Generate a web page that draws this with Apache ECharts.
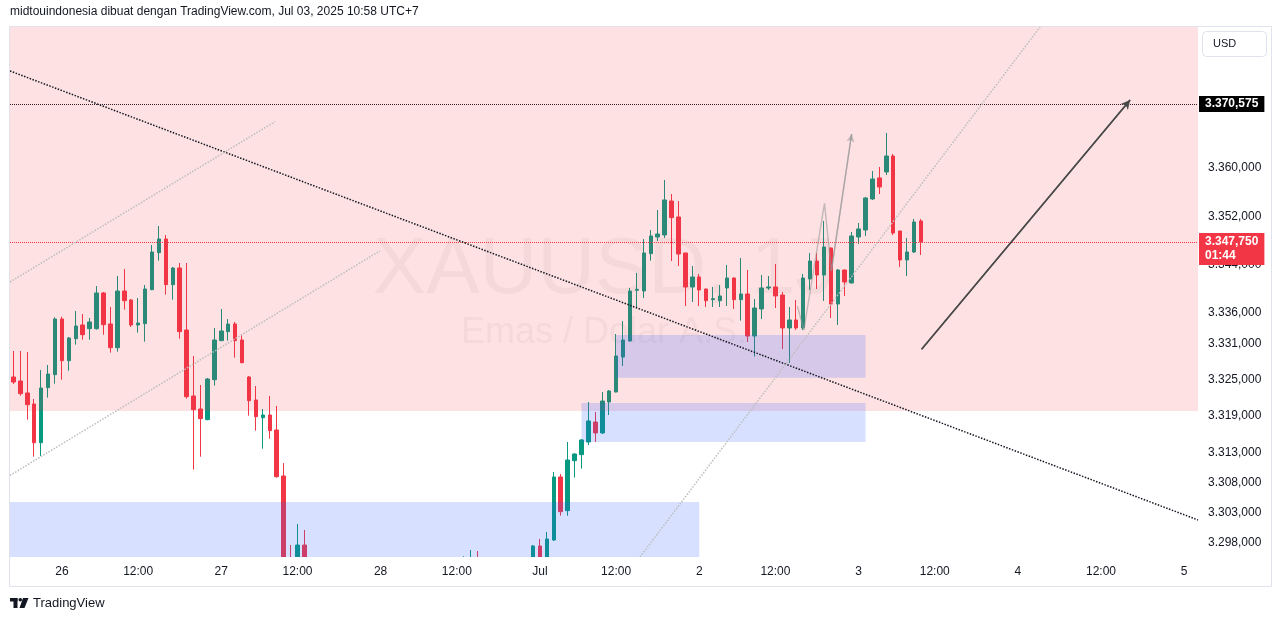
<!DOCTYPE html>
<html>
<head>
<meta charset="utf-8">
<script src="https://cdn.jsdelivr.net/npm/echarts@6/dist/echarts.min.js"></script>
<style>
html,body{margin:0;padding:0;background:#fff;}
#chart{width:1281px;height:621px;}
</style>
</head>
<body>
<div id="chart"></div>
<script>
// ---------- data (XAUUSD 1h, bar index 0 = Jun 25 17:00 UTC+7) ----------
const opens = [
3325.44,3324.78,3322.80,3320.98,3314.58,3323.68,3325.83,3335.03,3328.14,3331.78,
3334.04,3333.43,3333.43,3339.33,3334.21,3330.29,3339.66,3338.17,3334.04,3334.26,
3339.88,3346.00,3348.26,3340.71,3343.46,3333.21,3322.30,3320.15,3318.39,3325.00,
3331.45,3332.94,3334.20,3331.56,3325.44,3321.64,3318.72,3319.16,3316.68,3309.07,
3289.00,3282.00,3297.66,3286.30,3279.50,3272.80,3276.90,3268.20,3262.70,3266.40,
3271.50,3268.90,3274.30,3271.60,3276.20,3273.80,3275.10,3272.50,3266.30,3258.70,
3254.10,3262.80,3270.60,3279.50,3276.20,3285.40,3293.10,3294.60,3288.90,3291.70,
3286.50,3289.80,3284.60,3290.30,3287.10,3292.40,3297.50,3294.90,3298.49,3308.91,
3303.34,3311.61,3312.60,3314.70,3318.00,3316.19,3321.31,3322.96,3328.75,3331.40,
3339.77,3339.66,3345.84,3348.59,3348.92,3354.54,3351.90,3345.95,3340.32,3341.98,
3339.99,3338.23,3338.06,3340.16,3341.81,3338.23,3339.17,3332.22,3336.69,3340.16,
3340.33,3339.00,3333.55,3334.87,3333.55,3341.65,3344.62,3342.31,3346.77,3337.51,
3343.13,3340.99,3348.59,3349.75,3354.88,3358.35,3359.34,3361.98,3349.58,3344.79,
3346.11,3351.24];
const closes = [
3324.61,3322.69,3320.87,3314.58,3323.62,3325.94,3335.03,3328.14,3331.89,3333.88,
3332.44,3334.54,3339.33,3334.10,3330.29,3339.66,3338.06,3334.04,3334.37,3339.99,
3346.11,3348.26,3340.71,3343.46,3332.94,3322.19,3320.04,3318.55,3325.11,3331.56,
3333.05,3334.20,3331.45,3327.81,3321.53,3318.88,3319.16,3316.57,3308.96,3288.50,
3281.40,3297.66,3286.30,3279.50,3272.80,3276.90,3268.20,3262.70,3266.40,3271.50,
3268.90,3274.30,3271.60,3276.20,3273.80,3275.10,3274.00,3266.30,3258.70,3254.10,
3262.80,3270.60,3279.50,3276.20,3285.40,3293.10,3294.60,3288.90,3291.70,3286.50,
3289.80,3284.60,3290.30,3287.10,3292.40,3297.50,3294.90,3298.66,3308.91,3303.18,
3311.72,3312.71,3315.03,3318.17,3316.19,3321.47,3323.13,3328.92,3331.56,3339.66,
3339.94,3345.95,3348.76,3349.09,3354.71,3351.79,3345.78,3340.32,3341.98,3339.83,
3338.06,3338.40,3338.84,3341.81,3338.23,3339.17,3332.22,3336.85,3340.16,3340.33,
3338.84,3333.55,3334.87,3333.55,3341.81,3344.62,3342.31,3346.94,3337.51,3343.13,
3341.15,3348.76,3349.92,3355.04,3358.18,3356.86,3361.98,3349.25,3344.79,3346.11,
3351.07,3347.75];
const lows = [
3324.28,3322.35,3318.39,3312.27,3312.38,3322.03,3324.34,3325.00,3326.49,3330.79,
3331.62,3331.62,3333.27,3332.44,3329.47,3329.63,3336.58,3333.71,3332.77,3331.28,
3339.80,3344.68,3339.06,3338.23,3331.78,3321.86,3310.12,3312.27,3318.30,3324.01,
3331.40,3331.45,3328.64,3327.70,3319.05,3316.57,3313.59,3315.24,3308.80,3285.20,
3278.10,3279.50,3283.90,3276.00,3268.40,3270.20,3264.50,3259.10,3258.30,3264.00,
3265.70,3267.20,3269.80,3270.40,3272.10,3272.50,3273.20,3262.80,3255.00,3247.90,
3252.30,3261.10,3268.80,3273.00,3274.60,3283.90,3289.50,3286.40,3285.20,3283.00,
3284.10,3281.90,3283.40,3285.00,3285.90,3290.80,3293.60,3294.10,3298.33,3302.51,
3302.51,3308.80,3310.29,3314.20,3314.70,3316.02,3319.16,3322.90,3327.26,3331.30,
3336.85,3338.51,3344.68,3347.93,3348.43,3344.62,3343.80,3337.18,3337.84,3337.18,
3337.02,3337.02,3337.02,3337.18,3336.69,3334.76,3331.23,3328.81,3335.03,3339.83,
3336.85,3330.07,3327.76,3333.22,3333.22,3339.83,3339.99,3338.01,3335.20,3334.04,
3338.84,3340.90,3347.43,3348.76,3354.71,3355.70,3358.84,3348.92,3343.63,3342.14,
3345.95,3345.62];
const highs = [
3329.74,3329.74,3329.57,3321.80,3326.60,3327.43,3335.31,3335.42,3332.06,3336.36,
3335.86,3335.20,3340.49,3339.50,3337.02,3342.14,3343.30,3338.34,3338.50,3340.65,
3347.27,3350.41,3348.92,3343.63,3344.29,3344.29,3328.91,3324.12,3325.28,3333.54,
3336.68,3335.03,3334.54,3332.55,3325.61,3323.95,3320.15,3322.30,3320.65,3311.22,
3297.66,3301.14,3300.14,3289.20,3282.10,3279.60,3278.30,3271.00,3268.90,3274.20,
3273.80,3277.50,3276.40,3278.00,3278.90,3276.70,3276.30,3275.90,3268.20,3261.40,
3265.00,3273.40,3282.70,3284.10,3289.30,3295.80,3296.84,3296.67,3294.30,3293.50,
3292.60,3291.40,3293.00,3294.10,3294.60,3297.67,3298.66,3299.82,3309.74,3309.40,
3314.70,3312.80,3315.19,3321.31,3319.66,3322.96,3323.29,3332.55,3334.70,3340.16,
3342.64,3348.26,3349.75,3353.06,3358.02,3355.70,3354.54,3345.95,3343.80,3342.47,
3340.05,3340.33,3340.66,3343.96,3341.90,3345.12,3343.13,3338.34,3342.31,3342.14,
3344.13,3339.50,3337.02,3338.17,3342.47,3345.95,3345.95,3351.24,3346.85,3343.30,
3343.20,3349.42,3350.91,3355.21,3359.51,3360.17,3365.79,3362.32,3349.60,3348.43,
3351.57,3351.57];

const yTicks = [3298, 3303, 3308, 3313, 3319, 3325, 3331, 3336, 3344, 3352, 3360];
const lastPrice = 3347.75;
const lastCountdown = '01:44';
const levelPrice = 3370.575;

// drawings, in [bar index, price]
const zonePink = [[-0.5, 3319.82], [171, 3383.31]];
const zoneBlueLow = [[-0.5, 3295.68], [99, 3304.78]];
const zoneBlueMid = [[82, 3314.70], [123, 3321.14]];
const zoneBlueHigh = [[87, 3325.33], [123, 3332.39]];
const trendLine = [[-0.5, 3376.04], [171, 3301.80]];
const channelUpper = [[-0.5, 3341.15], [37.76, 3367.66]];
const channelLower = [[-0.5, 3309.17], [52.9, 3346.29]];
const channelRight = [[90.45, 3295.68], [148.2, 3383.31]];
const targetArrow = [[131.1, 3330.02], [161.2, 3371.24]];
const pathArrow = [[113.16, 3337.18], [114.1, 3333.21], [117.08, 3354.16], [118.07, 3342.97], [121.0, 3365.62]];

// ---------- time scale (gold session, UTC+7) ----------
const X_MIN = -0.5, X_MAX = 171;
const Y_MIN = 3295.68, Y_MAX = 3383.31;
const MONTHS = ['Jan','Feb','Mar','Apr','Mei','Jun','Jul','Agu','Sep','Okt','Nov','Des'];
const lastBarTime = Date.UTC(2025, 6, 3, 10);
const times = [];
for (let t = Date.UTC(2025, 5, 25, 17); times.length <= X_MAX; t += 3600000) {
  const d = new Date(t), day = d.getUTCDay(), h = d.getUTCHours();
  const future = t > lastBarTime;
  if (!future && h === 4) continue;
  if ((day === 6 && h >= 5) || day === 0 || (day === 1 && h < 5)) continue;
  times.push(d);
}
const tickIdx = [], tickText = {};
times.forEach((d, i) => {
  const h = d.getUTCHours();
  if (h === 0) { tickIdx.push(i); tickText[i] = d.getUTCDate() === 1 ? MONTHS[d.getUTCMonth()] : String(d.getUTCDate()); }
  else if (h === 12) { tickIdx.push(i); tickText[i] = '12:00'; }
});

function fmt(v) {
  const s = v.toFixed(3).split('.');
  return s[0].replace(/\B(?=(\d{3})+(?!\d))/g, '.') + ',' + s[1];
}

const candles = opens.map((o, i) => [i, o, closes[i], lows[i], highs[i]]);

const FONT = 'Liberation Sans';
const TXT = '#131722';
const UP = '#089981', DOWN = '#F23645';
const PINK = 'rgba(242,54,69,0.15)';
const BLUE = 'rgba(41,98,255,0.19)';

function lineSeries(data, color, width, type, extra) {
  return Object.assign({
    type: 'line', data: data, symbol: 'none', silent: true, z: 12,
    lineStyle: {color: color, width: width, type: type}, animation: false
  }, extra || {});
}

const chart = echarts.init(document.getElementById('chart'), null, {renderer: 'canvas'});
chart.setOption({
  animation: false,
  backgroundColor: '#ffffff',
  textStyle: {fontFamily: FONT},
  grid: {left: 10, right: 83, top: 27, bottom: 64},
  xAxis: {
    type: 'value', min: X_MIN, max: X_MAX, z: 30,
    axisLine: {show: false}, axisTick: {show: false}, splitLine: {show: false},
    axisLabel: {
      customValues: tickIdx, formatter: v => tickText[v] || '',
      color: TXT, fontSize: 12, fontFamily: FONT, margin: 9
    }
  },
  yAxis: {
    type: 'value', position: 'right', min: Y_MIN, max: Y_MAX,
    axisLine: {show: false}, axisTick: {show: false}, splitLine: {show: false},
    axisLabel: {customValues: yTicks, formatter: v => fmt(v), color: TXT, fontSize: 12, fontFamily: FONT, margin: 10}
  },
  graphic: [
    {type: 'text', left: 10, top: 6, z: 30,
     style: {text: 'midtouindonesia dibuat dengan TradingView.com, Jul 03, 2025 10:58 UTC+7', fill: TXT, font: '12px "Liberation Sans"'}},
    {type: 'text', x: 604, y: 271, z: 0, silent: true,
     style: {text: 'XAUUSD, 1J', fill: 'rgba(19,23,34,0.045)', font: '80px "Liberation Sans"', align: 'center', verticalAlign: 'middle'}},
    {type: 'text', x: 604, y: 333, z: 0, silent: true,
     style: {text: 'Emas / Dolar A.S.', fill: 'rgba(19,23,34,0.045)', font: '36px "Liberation Sans"', align: 'center', verticalAlign: 'middle'}},
    // white band under the price pane: hides the parts of candles that fall below the visible price range
    {type: 'rect', z: 25, silent: true, shape: {x: 0, y: 557, width: 1199, height: 64},
     style: {fill: '#ffffff'}},
    {type: 'rect', z: 26, silent: true, shape: {x: 9.5, y: 26.5, width: 1262, height: 560},
     style: {fill: 'none', stroke: '#e0e3eb', lineWidth: 1}},
    {type: 'rect', z: 26, silent: true, shape: {x: 1202.5, y: 31.5, width: 64, height: 25, r: 4},
     style: {fill: '#fff', stroke: '#e0e3eb', lineWidth: 1}},
    {type: 'text', z: 27, x: 1213, y: 44, silent: true,
     style: {text: 'USD', fill: TXT, font: '11px "Liberation Sans"', verticalAlign: 'middle'}},
    {type: 'group', x: 10, y: 598, z: 27, children: [
      {type: 'rect', z: 27, shape: {x: 0, y: 0, width: 7.5, height: 3.5}, style: {fill: '#131722'}},
      {type: 'rect', z: 27, shape: {x: 3.5, y: 0, width: 4, height: 10}, style: {fill: '#131722'}},
      {type: 'circle', z: 27, shape: {cx: 10.3, cy: 1.8, r: 1.8}, style: {fill: '#131722'}},
      {type: 'polygon', z: 27, shape: {points: [[13, 0], [18.5, 0], [14.5, 10], [9.5, 10]]}, style: {fill: '#131722'}}
    ]},
    {type: 'text', x: 33, y: 603, z: 27,
     style: {text: 'TradingView', fill: TXT, font: '13px "Liberation Sans"', verticalAlign: 'middle'}}
  ],
  series: [
    {
      type: 'candlestick', name: 'XAUUSD', data: candles,
      encode: {x: 0, y: [1, 2, 3, 4]},
      barWidth: 4, z: 2, clip: true, silent: true,
      itemStyle: {color: UP, color0: DOWN, borderColor: UP, borderColor0: DOWN, borderWidth: 1}
    },
    lineSeries(trendLine, '#131722', 1.5, 'dotted'),
    lineSeries(channelUpper, '#bdbdbd', 1.5, 'dotted'),
    lineSeries(channelLower, '#bdbdbd', 1.5, 'dotted'),
    lineSeries(channelRight, '#bdbdbd', 1.5, 'dotted'),
    lineSeries(targetArrow, '#4a4a4a', 1.4, 'solid', {
      markLine: {silent: true, z: 12, symbol: ['none', 'arrow'], symbolSize: [7, 9], label: {show: false},
        lineStyle: {color: '#4a4a4a', width: 1.4, type: 'solid'},
        data: [[{coord: targetArrow[0]}, {coord: targetArrow[1]}]]}
    }),
    lineSeries(pathArrow, 'rgba(150,150,150,0.55)', 1.4, 'solid', {
      markLine: {silent: true, z: 12, symbol: ['none', 'arrow'], symbolSize: [6, 8], label: {show: false},
        lineStyle: {color: 'rgba(150,150,150,0.55)', width: 1.4, type: 'solid'},
        data: [[{coord: pathArrow[3]}, {coord: pathArrow[4]}]]}
    }),
    {
      type: 'line', data: [], silent: true, z: 4,
      markArea: {
        silent: true, z: 10,
        data: [
          [{coord: zonePink[0], itemStyle: {color: PINK}}, {coord: zonePink[1]}],
          [{coord: zoneBlueLow[0], itemStyle: {color: BLUE}}, {coord: zoneBlueLow[1]}],
          [{coord: zoneBlueMid[0], itemStyle: {color: BLUE}}, {coord: zoneBlueMid[1]}],
          [{coord: zoneBlueHigh[0], itemStyle: {color: BLUE}}, {coord: zoneBlueHigh[1]}]
        ]
      },
      markLine: {
        silent: true, symbol: ['none', 'none'], z: 5,
        data: [
          {yAxis: levelPrice, lineStyle: {color: '#131722', width: 1, type: 'dotted'},
           label: {show: true, position: 'end', distance: 1, formatter: fmt(levelPrice),
             backgroundColor: '#000000', color: '#ffffff', fontSize: 12, fontWeight: 'bold',
             fontFamily: FONT, padding: [2, 6, 1, 6], lineHeight: 13}},
          {yAxis: lastPrice, lineStyle: {color: DOWN, width: 1, type: 'dotted'},
           label: {show: true, position: 'end', distance: 1, formatter: fmt(lastPrice) + '\n' + lastCountdown,
             backgroundColor: DOWN, color: '#ffffff', fontSize: 12, fontWeight: 'bold', align: 'left',
             fontFamily: FONT, padding: [2, 6, 2, 6], lineHeight: 14, offset: [0, 7]}}
        ]
      }
    }
  ]
});
</script>
</body>
</html>
